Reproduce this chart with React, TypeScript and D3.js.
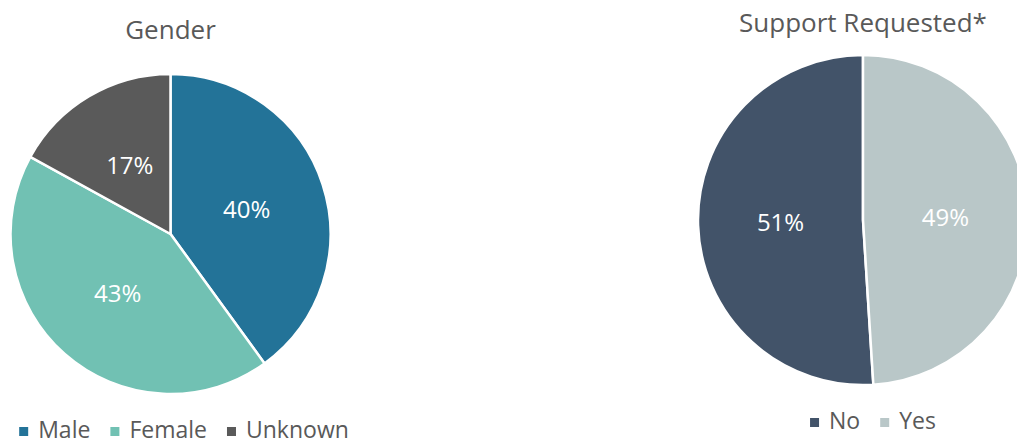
import React, { useEffect, useRef } from 'react'
import * as d3 from 'd3'

const genderLabels = ['Male', 'Female', 'Unknown']
const genderValues = [40, 43, 17]
const genderColors = ['#237398', '#71c1b3', '#5a5a5a']

const supportLabels = ['No', 'Yes']
const supportValues = [51, 49]
const supportColors = ['#425369', '#b9c7c8']

const W = 1017
const H = 445
const FONT = "'Open Sans', 'Noto Sans', sans-serif"
const TEXT_GREY = '#595959'

interface PieSpec {
  title: string
  labels: string[]
  values: number[]
  colors: string[]
  cx: number
  cy: number
  r: number
  titleY: number
  legendY: number
  legendCx: number
  startAngle: number
}

export default function App() {
  const svgRef = useRef<SVGSVGElement>(null)

  useEffect(() => {
    if (!svgRef.current) return
    const svg = d3.select(svgRef.current)
    svg.selectAll('*').remove()

    const specs: PieSpec[] = [
      {
        title: 'Gender',
        labels: genderLabels,
        values: genderValues,
        colors: genderColors,
        cx: 170.5, cy: 234, r: 160,
        titleY: 39, legendY: 438, legendCx: 184,
        startAngle: 0
      },
      {
        title: 'Support Requested*',
        labels: supportLabels,
        values: supportValues,
        colors: supportColors,
        cx: 863, cy: 220, r: 165,
        titleY: 32, legendY: 429, legendCx: 873,
        // "No" ends at 12 o'clock, "Yes" starts there clockwise
        startAngle: -2 * Math.PI * supportValues[0] / d3.sum(supportValues)
      }
    ]

    specs.forEach(spec => {
      const g = svg.append('g')
      const total = d3.sum(spec.values)

      const pie = d3.pie<number>()
        .sort(null)
        .value(d => d)
        .startAngle(spec.startAngle)
        .endAngle(spec.startAngle + 2 * Math.PI)
      const arcs = pie(spec.values)

      const arc = d3.arc<d3.PieArcDatum<number>>()
        .innerRadius(0)
        .outerRadius(spec.r)
      const labelArc = d3.arc<d3.PieArcDatum<number>>()
        .innerRadius(spec.r * 0.5)
        .outerRadius(spec.r * 0.5)

      const pg = g.append('g').attr('transform', `translate(${spec.cx},${spec.cy})`)

      pg.selectAll('path.slice')
        .data(arcs)
        .join('path')
        .attr('class', 'slice')
        .attr('d', arc)
        .attr('fill', (_, i) => spec.colors[i])
        .attr('stroke', '#fff')
        .attr('stroke-width', 2.5)
        .attr('stroke-linejoin', 'round')

      pg.selectAll('text.pct')
        .data(arcs)
        .join('text')
        .attr('class', 'pct')
        .attr('transform', d => `translate(${labelArc.centroid(d)})`)
        .attr('text-anchor', 'middle')
        .attr('dy', '0.35em')
        .attr('fill', '#fff')
        .style('font-family', FONT)
        .style('font-size', '24px')
        .text(d => `${Math.round(d.value / total * 100)}%`)

      g.append('text')
        .attr('x', spec.cx)
        .attr('y', spec.titleY)
        .attr('text-anchor', 'middle')
        .attr('fill', TEXT_GREY)
        .style('font-family', FONT)
        .style('font-size', '26px')
        .text(spec.title)

      // legend, laid out by measured text widths and centred under the pie
      const lg = g.append('g')
      const sq = 9
      const gapSq = 10
      const gapItem = 20
      let x = 0
      spec.labels.forEach((lab, i) => {
        lg.append('rect')
          .attr('x', x)
          .attr('y', spec.legendY - 11)
          .attr('width', sq)
          .attr('height', sq)
          .attr('fill', spec.colors[i])
        const t = lg.append('text')
          .attr('x', x + sq + gapSq)
          .attr('y', spec.legendY)
          .attr('fill', TEXT_GREY)
          .style('font-family', FONT)
          .style('font-size', '23px')
          .text(lab)
        const w = (t.node() as SVGTextElement).getComputedTextLength()
        x += sq + gapSq + w + gapItem
      })
      const totalW = x - gapItem
      lg.attr('transform', `translate(${spec.legendCx - totalW / 2},0)`)
    })
  }, [])

  return (
    <div style={{ position: 'absolute', left: 0, top: 0, width: W, height: H, background: '#fff' }}>
      <svg ref={svgRef} width={W} height={H} style={{ display: 'block' }} />
    </div>
  )
}
